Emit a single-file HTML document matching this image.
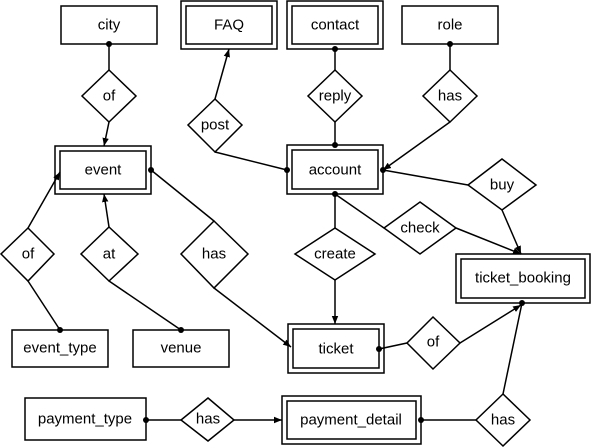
<!DOCTYPE html>
<html><head><meta charset="utf-8"><style>
html,body{margin:0;padding:0;background:#fff;}
svg{display:block;}
text{font-family:"Liberation Sans",Arial,sans-serif;font-size:15px;fill:#000;text-anchor:middle;dominant-baseline:central;}
</style></head><body>
<svg width="591" height="448" viewBox="0 0 591 448" xmlns="http://www.w3.org/2000/svg">
<defs>
<marker id="a" viewBox="0 0 10 10" refX="10" refY="5" markerWidth="8" markerHeight="8" orient="auto" markerUnits="userSpaceOnUse"><path d="M0,1 L10,5 L0,9 z" fill="#000"/></marker>
</defs>
<g stroke="#000" stroke-width="1.5" fill="none">
<!-- single boxes -->
<rect x="61" y="6" width="96" height="38"/>
<rect x="402" y="6" width="96" height="38"/>
<rect x="12" y="330" width="96" height="37"/>
<rect x="133" y="330" width="96" height="37"/>
<rect x="25" y="398" width="121" height="42"/>
<!-- double boxes -->
<rect x="181" y="1" width="96" height="48"/><rect x="186" y="6" width="86" height="38"/>
<rect x="287" y="1" width="96" height="48"/><rect x="292" y="6" width="86" height="38"/>
<rect x="55" y="146" width="96" height="48"/><rect x="60" y="151" width="86" height="38"/>
<rect x="287" y="145" width="96" height="49"/><rect x="292" y="150" width="86" height="39"/>
<rect x="456" y="254" width="134" height="49"/><rect x="461" y="259" width="124" height="39"/>
<rect x="288" y="324" width="96" height="49"/><rect x="293" y="329" width="86" height="39"/>
<rect x="282" y="396" width="139" height="48"/><rect x="287" y="401" width="129" height="38"/>
<!-- diamonds -->
<polygon points="109,70 136,96 109,122 82,96"/>
<polygon points="215,99 242,125 215,152 188,125"/>
<polygon points="335,70 362,96 335,122 308,96"/>
<polygon points="450,70 477,96 450,122 423,96"/>
<polygon points="502,159 536,185 502,210 468,185"/>
<polygon points="420,202 456,228 420,254 384,228"/>
<polygon points="335,228 375,254 335,280 295,254"/>
<polygon points="433,317 460,343 433,369 407,343"/>
<polygon points="503,394 530,420 503,446 476,420"/>
<polygon points="28,228 54,254 28,281 1,254"/>
<polygon points="109,227 138,254 109,281 81,254"/>
<polygon points="214,221 248,254 214,288 181,254"/>
<polygon points="208,398 234,420 208,441 181,420"/>
<!-- lines -->
<line x1="109" y1="44" x2="109" y2="70"/>
<line x1="109" y1="122" x2="104" y2="146" marker-end="url(#a)"/>
<line x1="215" y1="99" x2="229" y2="49" marker-end="url(#a)"/>
<line x1="215" y1="152" x2="287" y2="170"/>
<line x1="335" y1="70" x2="335" y2="49"/>
<line x1="335" y1="122" x2="335" y2="145"/>
<line x1="450" y1="44" x2="450" y2="70"/>
<line x1="450" y1="122" x2="383" y2="170" marker-end="url(#a)"/>
<line x1="383" y1="170" x2="468" y2="185"/>
<line x1="502" y1="210" x2="521" y2="254" marker-end="url(#a)"/>
<line x1="335" y1="194" x2="384" y2="228"/>
<line x1="456" y1="228" x2="521" y2="254" marker-end="url(#a)"/>
<line x1="335" y1="194" x2="335" y2="228"/>
<line x1="335" y1="280" x2="335" y2="324" marker-end="url(#a)"/>
<line x1="379" y1="349" x2="407" y2="343"/>
<line x1="460" y1="343" x2="521" y2="305" marker-end="url(#a)"/>
<line x1="421" y1="420" x2="476" y2="420"/>
<line x1="503" y1="394" x2="522" y2="303"/>
<line x1="146" y1="420" x2="181" y2="420"/>
<line x1="234" y1="420" x2="282" y2="420" marker-end="url(#a)"/>
<line x1="151" y1="170" x2="214" y2="221"/>
<line x1="214" y1="288" x2="291" y2="347" marker-end="url(#a)"/>
<line x1="60" y1="330" x2="28" y2="281"/>
<line x1="28" y1="228" x2="60" y2="172" marker-end="url(#a)"/>
<line x1="181" y1="330" x2="109" y2="281"/>
<line x1="109" y1="227" x2="104" y2="194" marker-end="url(#a)"/>
</g>
<g fill="#000">
<circle cx="109" cy="44" r="3"/><circle cx="287" cy="170" r="3"/><circle cx="335" cy="49" r="3"/>
<circle cx="335" cy="145" r="3"/><circle cx="450" cy="44" r="3"/><circle cx="383" cy="170" r="3"/>
<circle cx="335" cy="194" r="3"/><circle cx="379" cy="349" r="3"/><circle cx="522" cy="303" r="3"/>
<circle cx="421" cy="420" r="3"/><circle cx="146" cy="420" r="3"/><circle cx="151" cy="170" r="3"/>
<circle cx="60" cy="330" r="3"/><circle cx="181" cy="330" r="3"/>
</g>
<text x="109" y="25">city</text>
<text x="229" y="25">FAQ</text>
<text x="335" y="25">contact</text>
<text x="450" y="25">role</text>
<text x="103" y="170">event</text>
<text x="335" y="170">account</text>
<text x="523" y="278">ticket_booking</text>
<text x="336" y="349">ticket</text>
<text x="351" y="420">payment_detail</text>
<text x="60" y="348">event_type</text>
<text x="181" y="348">venue</text>
<text x="85" y="419">payment_type</text>
<text x="109" y="96">of</text>
<text x="215" y="125">post</text>
<text x="335" y="96">reply</text>
<text x="450" y="96">has</text>
<text x="502" y="185">buy</text>
<text x="420" y="228">check</text>
<text x="335" y="254">create</text>
<text x="433" y="342">of</text>
<text x="503" y="420">has</text>
<text x="28" y="254">of</text>
<text x="109" y="254">at</text>
<text x="214" y="254">has</text>
<text x="208" y="419">has</text>
</svg>
</body></html>
